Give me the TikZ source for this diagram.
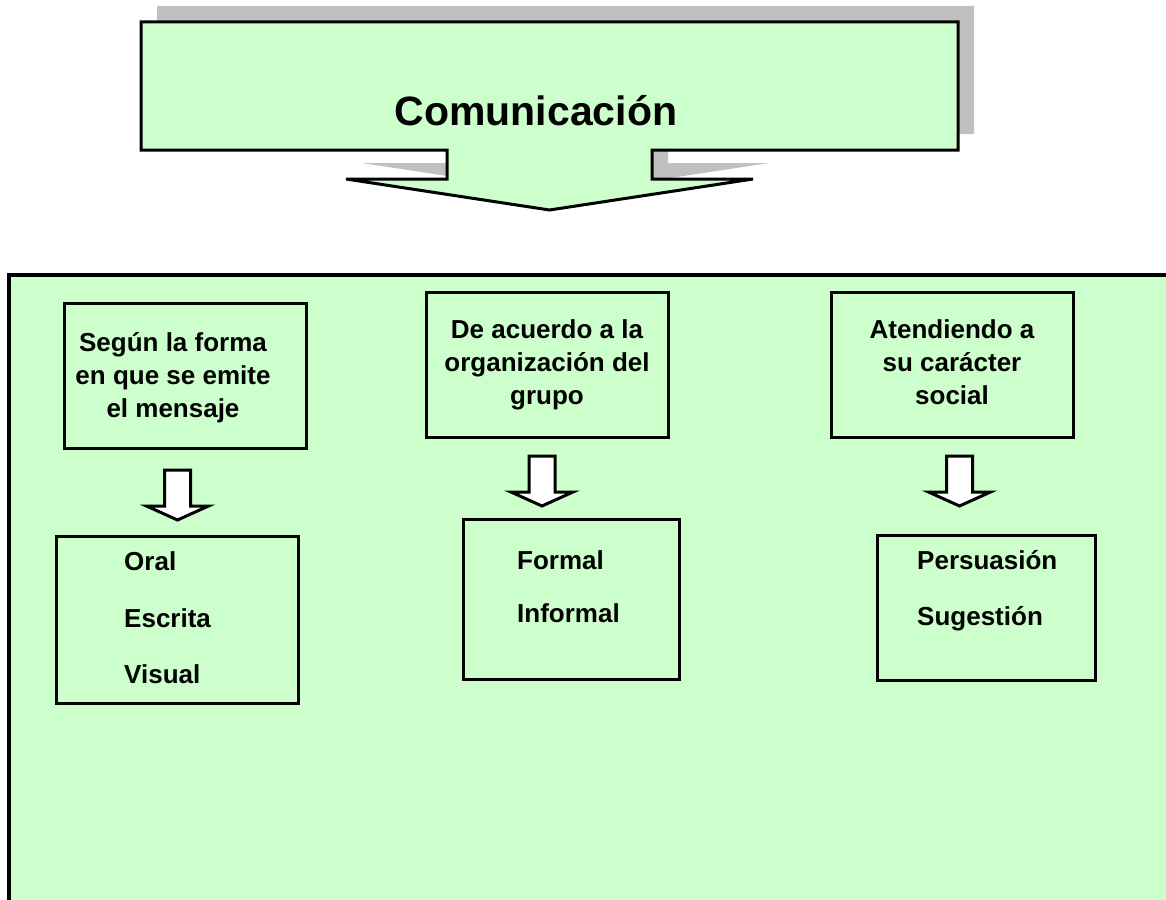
\documentclass[tikz,border=0pt]{standalone}
\usepackage{fontspec}
\setmainfont{Liberation Sans}
\definecolor{paleg}{RGB}{204,255,204}
\definecolor{shadowgray}{RGB}{192,192,192}
\begin{document}
\begin{tikzpicture}[x=1pt,y=-1pt,
  outline/.style={draw=black,line width=3pt,line join=miter},
  catbox/.style={outline,fill=paleg,minimum width=242pt,minimum height=145pt,inner sep=0pt},
  itembox/.style={outline,fill=paleg,inner sep=0pt},
  label/.style={font=\bfseries\fontsize{26}{33}\selectfont,inner sep=0pt,anchor=base},
  item/.style={label,anchor=base west},
  titletext/.style={font=\bfseries\fontsize{41}{48}\selectfont,inner sep=0pt,anchor=base},
  blockarrow/.pic={\draw[outline,fill=white] (-13,0) -- (13,0) -- (13,36) -- (31,36)
      -- (0,50) -- (-31,36) -- (-13,36) -- cycle;},
  calloutshape/.pic={\path[pic actions] (141,22) -- (958,22) -- (958,150) -- (652,150)
      -- (652,179) -- (753,179) -- (549.5,210) -- (346,179) -- (447,179) -- (447,150)
      -- (141,150) -- cycle;}
]
\useasboundingbox (0,0) rectangle (1166,899);

% large panel running off the right and bottom edges
\begin{scope}
  \clip (0,0) rectangle (1166,899);
  \fill[paleg] (9,275) rectangle (1300,1000);
  \draw[line width=3.5pt] (1300,275) -- (9,275) -- (9,1000);
\end{scope}

% callout arrow with its drop shadow
\pic[fill=shadowgray] at (16,-16) {calloutshape};
\pic[outline,fill=paleg] {calloutshape};
\node[titletext] (title) at (536,125) {Comunicación};

% category boxes
\node[catbox] (forma) at (185,376) {};
\node[catbox] (grupo) at (547,364.5) {};
\node[catbox] (social) at (952,364.5) {};

\node[label] (f1) at (173,351) {Según la forma};
\node[label] (f2) at (173,384) {en que se emite};
\node[label] (f3) at (173,417) {el mensaje};
\node[label] (g1) at (547,338) {De acuerdo a la};
\node[label] (g2) at (547,371) {organización del};
\node[label] (g3) at (547,404) {grupo};
\node[label] (s1) at (952,338) {Atendiendo a};
\node[label] (s2) at (952,371) {su carácter};
\node[label] (s3) at (952,404) {social};

% block arrows
\pic at (177.5,470) {blockarrow};
\pic at (542,456) {blockarrow};
\pic at (959.5,456) {blockarrow};

% item boxes
\node[itembox,minimum width=242pt,minimum height=167pt] (formaitems) at (177,619.5) {};
\node[itembox,minimum width=216pt,minimum height=160pt] (grupoitems) at (571,599) {};
\node[itembox,minimum width=218pt,minimum height=145pt] (socialitems) at (986,607.5) {};

\node[item] (oral) at (124,570) {Oral};
\node[item] (escrita) at (124,627) {Escrita};
\node[item] (visual) at (124,683) {Visual};
\node[item] (formal) at (517,569) {Formal};
\node[item] (informal) at (517,622) {Informal};
\node[item] (persuasion) at (917,569) {Persuasión};
\node[item] (sugestion) at (917,625) {Sugestión};
\end{tikzpicture}
\end{document}
